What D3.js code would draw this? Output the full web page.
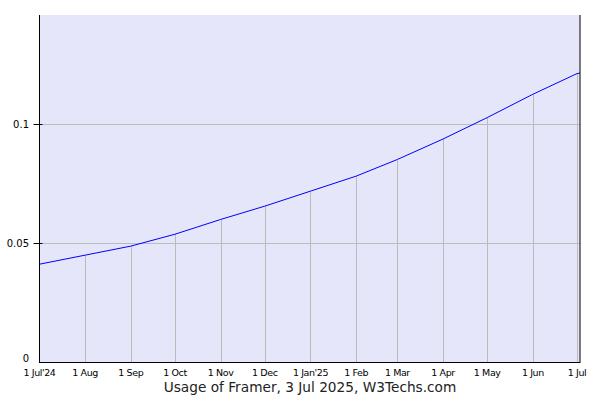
<!DOCTYPE html>
<html>
<head>
<meta charset="utf-8">
<script src="https://cdn.jsdelivr.net/npm/d3@7"></script>
<style>
  body { margin: 0; background: #fff; }
  text { font-family: "DejaVu Sans", Verdana, sans-serif; }
</style>
</head>
<body>
<div id="chart"></div>
<script>
// data
const dates = ["2024-07-01", "2024-08-01", "2024-09-01", "2024-10-01", "2024-11-01", "2024-12-01",
  "2025-01-01", "2025-02-01", "2025-03-01", "2025-04-01", "2025-05-01", "2025-06-01", "2025-07-01", "2025-07-03"];
const usage = [0.0413, 0.0451, 0.0489, 0.0539, 0.0601, 0.0657,
  0.0720, 0.0783, 0.0853, 0.0939, 0.1029, 0.1127, 0.1214, 0.1216];
const tickDates = ["2024-07-01", "2024-08-01", "2024-09-01", "2024-10-01", "2024-11-01", "2024-12-01",
  "2025-01-01", "2025-02-01", "2025-03-01", "2025-04-01", "2025-05-01", "2025-06-01", "2025-07-01"];
const tickLabels = ["1 Jul'24", "1 Aug", "1 Sep", "1 Oct", "1 Nov", "1 Dec",
  "1 Jan'25", "1 Feb", "1 Mar", "1 Apr", "1 May", "1 Jun", "1 Jul"];
const yTicks = [0, 0.05, 0.1];
const title = "Usage of Framer, 3 Jul 2025, W3Techs.com";

const width = 600;
const height = 400;
const margin = { top: 15, right: 20, bottom: 37.5, left: 39.5 };

const parse = d3.timeParse("%Y-%m-%d");
const data = dates.map((d, i) => ({ date: parse(d), v: usage[i] }));
const ticks = tickDates.map(parse);

const svg = d3.select("#chart")
  .append("svg")
  .attr("width", width)
  .attr("height", height);

const x = d3.scaleTime()
  .domain([parse("2024-07-01"), parse("2025-07-03")])
  .range([margin.left, width - margin.right]);

const y = d3.scaleLinear()
  .domain([0, 0.146])
  .range([height - margin.bottom, margin.top]);

// plot background
svg.append("rect")
  .attr("x", x.range()[0])
  .attr("y", y.range()[1])
  .attr("width", x.range()[1] - x.range()[0])
  .attr("height", y.range()[0] - y.range()[1])
  .attr("fill", "#e6e6fa");

// horizontal grid
svg.append("g")
  .selectAll("line")
  .data(yTicks.filter(d => d > 0))
  .join("line")
  .attr("x1", x.range()[0])
  .attr("x2", x.range()[1])
  .attr("y1", d => Math.round(y(d)) + 0.5)
  .attr("y2", d => Math.round(y(d)) + 0.5)
  .attr("stroke", "#bbb");

// vertical drops from the line at each month
const interp = d => {
  const i = d3.bisector(p => p.date).left(data, d);
  return data[i].v;
};
svg.append("g")
  .selectAll("line")
  .data(ticks.slice(1))
  .join("line")
  .attr("x1", d => Math.round(x(d)) + 0.5)
  .attr("x2", d => Math.round(x(d)) + 0.5)
  .attr("y1", d => y(interp(d)))
  .attr("y2", y.range()[0])
  .attr("stroke", "#bbb");

// usage line
svg.append("path")
  .datum(data)
  .attr("fill", "none")
  .attr("stroke", "#0000ff")
  .attr("stroke-width", 1)
  .attr("d", d3.line()
    .x(d => x(d.date))
    .y(d => y(d.v))
  );

// frame: left, bottom, right
const frame = svg.append("g").attr("stroke", "#000").attr("stroke-width", 1);
frame.append("line")
  .attr("x1", x.range()[0]).attr("x2", x.range()[0])
  .attr("y1", y.range()[1]).attr("y2", y.range()[0] + 0.5);
frame.append("line")
  .attr("x1", x.range()[1]).attr("x2", x.range()[1])
  .attr("y1", y.range()[1]).attr("y2", y.range()[0] + 0.5);
frame.append("line")
  .attr("x1", x.range()[0]).attr("x2", x.range()[1])
  .attr("y1", y.range()[0]).attr("y2", y.range()[0]);

// y axis ticks and labels
const yg = svg.append("g");
yg.selectAll("line")
  .data(yTicks.filter(d => d > 0))
  .join("line")
  .attr("x1", x.range()[0] - 6)
  .attr("x2", x.range()[0] + 3)
  .attr("y1", d => Math.round(y(d)) + 0.5)
  .attr("y2", d => Math.round(y(d)) + 0.5)
  .attr("stroke", "#000");
yg.selectAll("text")
  .data(yTicks)
  .join("text")
  .attr("x", 29)
  .attr("y", d => d === 0 ? y(d) - 1 : y(d) + 4)
  .attr("text-anchor", "end")
  .attr("font-size", 10)
  .attr("fill", "#000")
  .text(d => d3.format("")(d));

// x labels
svg.append("g")
  .selectAll("text")
  .data(ticks)
  .join("text")
  .attr("x", d => x(d))
  .attr("y", y.range()[0] + 13)
  .attr("text-anchor", "middle")
  .attr("font-family", "'DejaVu Sans Condensed', sans-serif")
  .attr("font-size", 9.5)
  .attr("letter-spacing", -0.4)
  .attr("fill", "#000")
  .text((d, i) => tickLabels[i]);

// title
svg.append("text")
  .attr("x", 310)
  .attr("y", 392)
  .attr("text-anchor", "middle")
  .attr("font-size", 13.7)
  .attr("fill", "#222")
  .text(title);
</script>
</body>
</html>
